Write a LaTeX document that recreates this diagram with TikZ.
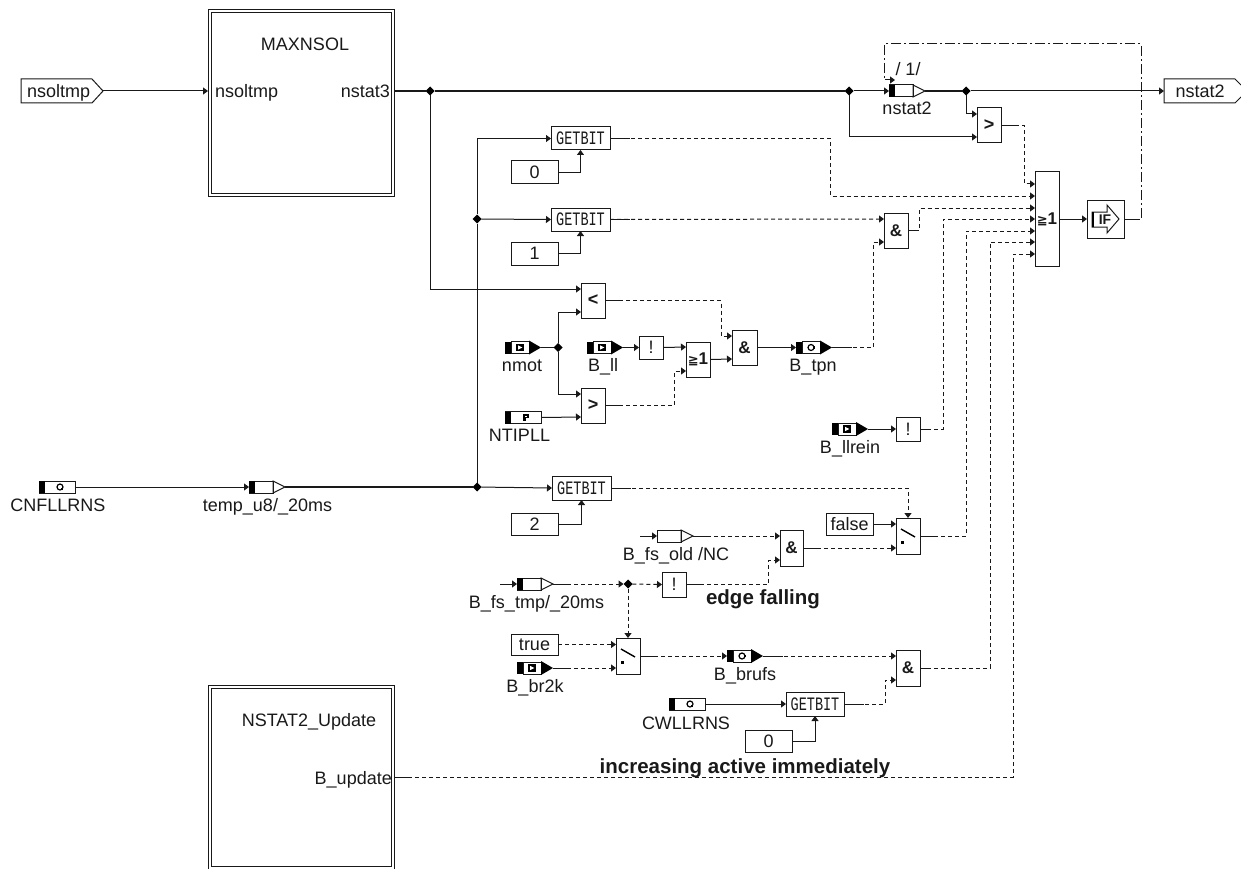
\documentclass[tikz,border=0pt]{standalone}
\usepackage{fontspec}
\usepackage{graphicx}
\setmainfont{Liberation Sans}
\newfontfamily\monof{Liberation Mono}
\newfontfamily\dejav{DejaVu Sans}
\usetikzlibrary{arrows.meta,shapes.geometric,calc}
\definecolor{ink}{gray}{0.1}
\tikzset{
  blk/.style={draw=ink,line width=1pt,inner sep=0pt,outer sep=0pt,rectangle},
  sys/.style={draw=ink,line width=1pt,inner sep=0pt,outer sep=0pt,rectangle},
  wire/.style={draw=ink,line width=1pt,-{Triangle[length=5pt,width=7pt]}},
  plain/.style={draw=ink,line width=1pt},
  heavy/.style={draw=ink,line width=1.5pt},
  dsh/.style={wire,dash pattern=on 4pt off 3pt},
  dshdot/.style={wire,dash pattern=on 10pt off 3pt on 2pt off 3pt},
  jn/.style={diamond,fill=black,inner sep=0pt,minimum size=9pt,outer sep=0pt},
  lab/.style={anchor=base,inner sep=0pt,font=\fontsize{18}{18}\selectfont,text=ink},
  big/.style={anchor=base,inner sep=0pt,font=\fontsize{20.5}{20.5}\selectfont\bfseries,text=ink},
  op/.style={font=\fontsize{17}{17}\selectfont\bfseries,text=ink},
  val/.style={font=\fontsize{18}{18}\selectfont,text=ink}
}
\newcommand{\bx}[6]{%
  \pgfmathsetmacro{\cxx}{(#2+#4)/2}\pgfmathsetmacro{\cyy}{(#3+#5)/2}%
  \pgfmathsetmacro{\wxx}{#4-#2}\pgfmathsetmacro{\hyy}{#5-#3}%
  \node[blk,minimum width=\wxx pt,minimum height=\hyy pt,op] (#1) at (\cxx,\cyy) {#6};}
\newcommand{\cst}[6]{%
  \pgfmathsetmacro{\cxx}{(#2+#4)/2}\pgfmathsetmacro{\cyy}{(#3+#5)/2}%
  \pgfmathsetmacro{\wxx}{#4-#2}\pgfmathsetmacro{\hyy}{#5-#3}%
  \node[blk,minimum width=\wxx pt,minimum height=\hyy pt,val] (#1) at (\cxx,\cyy) {#6};}
\newcommand{\gbit}{\scalebox{.82}[1.15]{\fontsize{16.5}{16.5}\monof GETBIT}}
\newcommand{\gb}[5]{\cst{#1}{#2}{#3}{#4}{#5}{\gbit}}
\newcommand{\geone}{{\dejav\fontsize{13}{13}\selectfont ≧}1}
\newcommand{\sysbox}[5]{%
  \node[sys,minimum width=#4pt,minimum height=#5pt] (#1) at (#2,#3) {};
  \draw[ink,line width=1pt] ($(#1.north west)+(3,3)$) rectangle ($(#1.south east)+(-3,-3)$);}
% signal with black block, white cell and black head; #1 name, #2 left x, #3 mid y, #4 icon
\newcommand{\sig}[4]{%
  \node[inner sep=0pt,outer sep=0pt,minimum width=36pt,minimum height=12pt] (#1) at ($(#2,#3)+(18,0)$) {};
  \fill[black] (#1.north west) rectangle ++(6,12);
  \draw[ink,line width=1pt] ($(#1.north west)+(6,0)$) rectangle ++(18,12);
  \fill[black] ($(#1.north west)+(24,-1)$) -- ($(#1.east)$) -- ($(#1.south west)+(24,1)$) -- cycle;
  \begin{scope}[shift={($(#1.center)+(-3,0)$)}]#4\end{scope}}
% parameter cell: no head
\newcommand{\prm}[4]{%
  \node[blk,minimum width=36pt,minimum height=12pt] (#1) at ($(#2,#3)+(18,0)$) {};
  \fill[black] (#1.north west) rectangle ++(6,12);
  \begin{scope}[shift={($(#1.center)+(3,0)$)}]#4\end{scope}}
% delay; #1 name, #2 left x, #3 mid y, #4 block width (0 or 6)
\newcommand{\dly}[4]{%
  \node[inner sep=0pt,outer sep=0pt,minimum width=36pt,minimum height=12pt] (#1) at ($(#2,#3)+(18,0)$) {};
  \draw[ink,line width=1pt] (#1.north west) rectangle ++(24,12);
  \fill[black] (#1.north west) rectangle ++(#4,12);
  \draw[ink,line width=1pt] ($(#1.north west)+(24,0)$) -- (#1.east) -- ($(#1.south west)+(24,0)$) -- cycle;}
\newcommand{\icmsg}{\fill[black] (-3.6,-3.6) rectangle (3.6,3.6);\fill[white] (-2,-2.2) -- (2.4,0) -- (-2,2.2) -- cycle;}
\newcommand{\iccirc}{\draw[black,line width=1.2pt] (0,0) circle (3);\fill[black] (2.4,-1.2) rectangle (4,1.2);}
\newcommand{\icq}{\draw[black,line width=1.2pt] (0,0) circle (3);\fill[black] (.5,.5) rectangle (3.2,3.4);}
\newcommand{\icp}{\fill[black] (-2.8,-3.4) rectangle (2.8,.8);\fill[black] (-2.8,0) rectangle (-.3,3.4);\fill[white] (-.6,-1.9) rectangle (.9,-.5);}
% switch block
\newcommand{\swt}[5]{%
  \bx{#1}{#2}{#3}{#4}{#5}{}
  \draw[black,line width=1.4pt] ($(#1.center)+(-7,-7)$) -- ($(#1.center)+(7,1)$);
  \fill[black] ($(#1.center)+(-7.5,4.5)$) rectangle ++(3,3);}
\begin{document}
\begin{tikzpicture}[x=1pt,y=-1pt]
\useasboundingbox (0,0) rectangle (1241,869);
% subsystems
\sysbox{maxn}{301}{103}{186}{186}
\node[lab] (maxnT) at (305,51) {MAXNSOL};
\node[lab,anchor=base west] (maxnI) at (215,98) {nsoltmp};
\node[lab,anchor=base east] (maxnO) at (390,98) {nstat3};
\sysbox{upd}{301}{777}{186}{184}
\node[lab] (updT) at (309,726) {NSTAT2\_Update};
\node[lab,anchor=base east] (updO) at (392,784) {B\_update};
% ports
\node[inner sep=0pt,outer sep=0pt,minimum width=82pt,minimum height=24pt,anchor=west] (inp) at (21,91) {};
\draw[ink,line width=1pt,fill=white] (21,79) -- (92,79) -- (103,91) -- (92,103) -- (21,103) -- cycle;
\node[lab,anchor=base west] (inpT) at (27,98) {nsoltmp};
\coordinate (outp) at (1164,91);
\draw[ink,line width=1pt] (1241,85) -- (1235,79) -- (1164,79) -- (1164,103) -- (1235,103) -- (1241,97);
\node[lab] (outT) at (1200,98) {nstat2};
% comparison and logic
\bx{gt1}{977}{108}{1001}{143}{\fontsize{18}{18}\selectfont >}
\coordinate (gt1-a) at (977,114); \coordinate (gt1-b) at (977,137);
\bx{orB}{1035}{172}{1059}{266}{\geone}
\foreach \n/\yy in {1/184,2/196,3/208,4/219,5/231,6/242,7/254}{\coordinate (orB-\n) at (1035,\yy);}
\bx{iff}{1087}{200}{1124}{238}{}
\draw[ink,line width=1pt] (1092,212) -- (1107,212) -- (1107,205) -- (1119,219) -- (1107,233) -- (1107,227) -- (1092,227) -- cycle;
\fill[black] (1092,212) rectangle (1094,227);
\node[op,inner sep=0pt] (ifT) at (1105,219.5) {\fontsize{14}{14}\selectfont IF};
\gb{g0}{551}{127}{610}{150}
\gb{g1}{551}{208}{610}{231}
\gb{g2}{552}{476}{611}{500}
\gb{g3}{786}{692}{844}{716}
\cst{c0}{511}{161}{558}{184}{0}
\cst{c1}{511}{242}{558}{265}{1}
\cst{c2}{511}{513}{558}{535}{2}
\cst{c3}{745}{730}{792}{752}{0}
\cst{cfalse}{826}{513}{873}{535}{false}
\cst{ctrue}{511}{634}{558}{655}{true}
\bx{and1}{884}{213}{908}{248}{\&}
\coordinate (and1-a) at (884,219); \coordinate (and1-b) at (884,242);
\bx{and2}{732}{330}{757}{365}{\&}
\coordinate (and2-a) at (732,336); \coordinate (and2-b) at (732,359);
\bx{lt1}{581}{283}{605}{318}{\fontsize{18}{18}\selectfont <}
\coordinate (lt1-a) at (581,289); \coordinate (lt1-b) at (581,312);
\bx{gt2}{581}{388}{605}{423}{\fontsize{18}{18}\selectfont >}
\coordinate (gt2-a) at (581,394); \coordinate (gt2-b) at (581,417);
\bx{or2}{686}{342}{710}{377}{\geone}
\coordinate (or2-a) at (686,347); \coordinate (or2-b) at (686,371);
\cst{n1}{639}{336}{663}{359}{!}
\cst{n2}{896}{417}{920}{441}{!}
\cst{n3}{662}{572}{686}{597}{!}
\bx{and3}{780}{530}{803}{566}{\&}
\coordinate (and3-a) at (780,536); \coordinate (and3-b) at (780,560);
\bx{and4}{896}{650}{920}{686}{\&}
\coordinate (and4-a) at (896,656); \coordinate (and4-b) at (896,680);
\swt{sw1}{896}{518}{920}{554}
\coordinate (sw1-a) at (896,524); \coordinate (sw1-b) at (896,548);
\swt{sw2}{616}{638}{640}{674}
\coordinate (sw2-a) at (616,644.5); \coordinate (sw2-b) at (616,668);
% signals
\sig{nmot}{505}{347.5}{\icmsg}
\sig{bll}{587}{347.5}{\icmsg}
\sig{btpn}{796}{347.5}{\iccirc}
\sig{bllrein}{832}{429}{\icmsg}
\sig{bbr}{517}{668}{\icmsg}
\sig{bbrufs}{727}{656}{\iccirc}
\prm{ntipll}{505}{417.5}{\icp}
\prm{cnf}{39}{487}{\icq}
\prm{cwl}{669}{704}{\icq}
\dly{dn2}{889}{91}{6}
\dly{dtemp}{249}{487}{6}
\dly{dold}{657}{536}{0}
\dly{dfs}{517}{584}{6}
% labels
\node[lab] (Lnstat) at (907,115) {nstat2};
\node[lab] (Lone) at (908,76) {/ 1/};
\node[lab] (Lnmot) at (522,371) {nmot};
\node[lab] (Lbll) at (603,371) {B\_ll};
\node[lab] (Lbtpn) at (813,371) {B\_tpn};
\node[lab] (Lntip) at (519.5,441) {NTIPLL};
\node[lab] (Lrein) at (850,453) {B\_llrein};
\node[lab] (Lold) at (676,560) {B\_fs\_old /NC};
\node[lab] (Lfs) at (536.5,608.5) {B\_fs\_tmp/\_20ms};
\node[big] (Ledge) at (763,604) {edge falling};
\node[big] (Lincr) at (745,773) {increasing active immediately};
\node[lab] (Lbr) at (535,692) {B\_br2k};
\node[lab] (Lbrufs) at (745,680) {B\_brufs};
\node[lab] (Lcwl) at (686,729) {CWLLRNS};
\node[lab] (Lcnf) at (58,511) {CNFLLRNS};
\node[lab] (Ltemp) at (267.5,511) {temp\_u8/\_20ms};
% junctions
\node[jn] (j1) at (430,91) {};
\node[jn] (j2) at (849,91) {};
\node[jn] (j3) at (966,91) {};
\node[jn] (j4) at (477,219) {};
\node[jn] (j5) at (477,487) {};
\node[jn] (j6) at (558,347.5) {};
\node[jn] (j7) at (628,584) {};
% solid wires
\draw[wire] (inp.east) -- (maxn.west |- inp.east);
\draw[heavy] (maxn.east |- j1) -- (j1) -- (j2);
\draw[wire] (j2) -- (dn2.west);
\draw[heavy] (dn2.east) -- (j3);
\draw[wire] (j3) -- (outp);
\draw[wire] (j3) |- (gt1-a);
\draw[wire] (j2) |- (gt1-b);
\draw[wire] (j1) |- (lt1-a);
\draw[wire] (j5) -- (j4) |- (g0.west);
\draw[wire] (j4) -- (g1.west);
\draw[wire] (cnf.east) -- (dtemp.west);
\draw[heavy] (dtemp.east) -- (j5);
\draw[wire] (j5) -- (g2.west);
\draw[wire] (c0.east) -| (g0.south);
\draw[wire] (c1.east) -| (g1.south);
\draw[wire] (c2.east) -| (g2.south);
\draw[wire] (c3.east) -| (g3.south);
\draw[wire] (cwl.east) -- (g3.west);
\draw[plain] (nmot.east) -- (j6);
\draw[wire] (j6) |- (lt1-b);
\draw[wire] (j6) |- (gt2-a);
\draw[wire] (ntipll.east) -- (gt2-b);
\draw[wire] (bll.east) -- (n1.west);
\draw[wire] (n1.east) -- (or2-a);
\draw[wire] (or2.east) -- (and2-b);
\draw[wire] (and2.east) -- (btpn.west);
\draw[wire] (bllrein.east) -- (n2.west);
\draw[wire] (orB.east) -- (iff.west);
\coordinate (sOld) at (640,536); \coordinate (sFs) at (500,584);
\draw[wire] (sOld) -- (dold.west);
\draw[wire] (sFs) -- (dfs.west);
\draw[wire] (cfalse.east) -- (sw1-a);
% dashed wires
\draw[dsh] (g0.east) -- (830,138.5) |- (orB-2);
\draw[dsh] (g1.east) -- (and1-a);
\draw[dsh] (gt1.east) -- (1024,125.5) |- (orB-1);
\draw[dsh] (and1.east) -- (919,230.5) |- (orB-3);
\draw[dsh] (btpn.east) -- (873,347.5) |- (and1-b);
\draw[dsh] (lt1.east) -- (721,300.5) |- (and2-a);
\draw[dsh] (gt2.east) -- (674,405.5) |- (or2-b);
\draw[dsh] (n2.east) -- (943,429) |- (orB-4);
\draw[dsh] (g2.east) -| (sw1.north);
\draw[dsh] (sw1.east) -- (966,536) |- (orB-5);
\draw[dsh] (and3.east) -- (sw1-b);
\draw[dsh] (dold.east) -- (and3-a);
\draw[dsh] (dfs.east) -- (j7);
\draw[dsh] (j7) -- (n3.west);
\draw[dsh] (n3.east) -- (768,584.5) |- (and3-b);
\draw[dsh] (j7) -- (j7 |- sw2.north);
\draw[dsh] (ctrue.east) -- (sw2-a);
\draw[dsh] (bbr.east) -- (sw2-b);
\draw[dsh] (sw2.east) -- (bbrufs.west);
\draw[dsh] (bbrufs.east) -- (and4-a);
\draw[dsh] (g3.east) -- (885,704) |- (and4-b);
\draw[dsh] (and4.east) -- (990,668) |- (orB-6);
\draw[dsh] (upd.east |- updO.base) ++(0,-7) -- (1013,777) |- (orB-7);
\coordinate (loopA) at (884,80);
\draw[dshdot] (iff.east) -- (1141,219) -- (1141,44) -- (884,44) -- (loopA) -- (895,80);
% solid stubs on dashed outputs
\foreach \a/\l in {g0/20,g1/20,g2/20,g3/20,gt1/14,gt2/14,lt1/14,and1/10,and3/14,and4/10,sw1/14,sw2/14,n3/14,n2/10,btpn/20,bbrufs/20,dold/16,dfs/16,bbr/18}{
  \draw[plain] (\a.east) -- ++(\l,0);}
\draw[plain] (iff.east) -- ++(16,0);
\draw[plain] (upd.east |- updO.base) ++(0,-7) -- ++(14,0);
\end{tikzpicture}
\end{document}
